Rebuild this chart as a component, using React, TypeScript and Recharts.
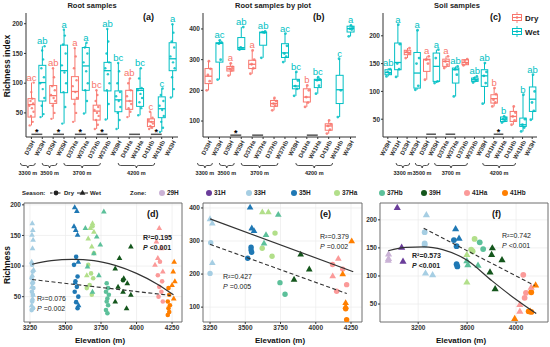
import React from 'react';
import {
  ComposedChart,
  Bar,
  XAxis,
  YAxis,
  ReferenceLine,
  ScatterChart,
  Scatter,
  CartesianGrid,
  ReferenceArea
} from 'recharts';

const FONT = '"Liberation Sans", Arial, Helvetica, sans-serif';
const DRY = '#F8766D';
const WET = '#00BFC4';
const INK = '#333333';

// ---------- (a) root samples ----------
const rootCats = ['D33H', 'W33H', 'D35H', 'W35H', 'D37Ha', 'W37Ha', 'D37Hb', 'W37Hb', 'W39H', 'D41Ha', 'W41Ha', 'D41Hb', 'W41Hb', 'W43H'];
// [min, q1, median, q3, max]
const rootStats = [
  [29, 43, 64, 74, 101],
  [43, 70, 101, 130, 162],
  [40, 66, 79, 96, 125],
  [32, 84, 121, 164, 190],
  [35, 73, 86, 111, 159],
  [49, 88, 129, 160, 168],
  [23, 38, 53, 63, 88],
  [39, 87, 121, 135, 191],
  [23, 52, 72, 87, 134],
  [43, 56, 70, 88, 108],
  [46, 61, 88, 91, 125],
  [23, 27, 35, 40, 52],
  [18, 42, 57, 77, 91],
  [76, 121, 141, 168, 199]
];
const rootPts = [
  [29, 35, 45, 52, 58, 62, 66, 70, 74, 85, 101],
  [43, 48, 62, 75, 90, 100, 110, 125, 140, 155, 162],
  [40, 50, 62, 70, 75, 80, 88, 95, 110, 125],
  [32, 60, 85, 100, 118, 130, 150, 165, 180, 190],
  [35, 50, 65, 75, 85, 95, 105, 125, 145, 159],
  [49, 70, 88, 100, 120, 135, 150, 160, 168],
  [23, 30, 38, 45, 50, 55, 60, 70, 80, 88],
  [39, 65, 88, 100, 115, 125, 135, 150, 170, 191],
  [23, 38, 50, 60, 70, 78, 85, 100, 120, 134],
  [43, 52, 58, 65, 70, 78, 88, 100, 108],
  [46, 58, 68, 75, 82, 88, 92, 108, 125],
  [23, 25, 28, 32, 35, 38, 42, 52],
  [18, 25, 35, 45, 55, 62, 70, 80, 91],
  [76, 90, 110, 125, 135, 145, 160, 170, 185, 199]
];
const rootLetters = ['ac', 'ab', 'ab', 'a', 'a', 'a', 'bc', 'ab', 'bc', 'ab', 'bc', 'c', 'c', 'a'];
const rootSig: [string, string, string][] = [
  ['D33H', 'W33H', '*'], ['D35H', 'W35H', '*'], ['D37Ha', 'W37Ha', '*'],
  ['D37Hb', 'W37Hb', '*'], ['D41Ha', 'W41Ha', ''], ['D41Hb', 'W41Hb', '*']
];

// ---------- (b) root samples by plot ----------
const plotStats = [
  [200, 222, 246, 271, 295],
  [235, 292, 353, 355, 363],
  [248, 263, 270, 278, 288],
  [333, 333, 339, 372, 406],
  [254, 271, 285, 298, 330],
  [306, 347, 388, 390, 392],
  [135, 148, 157, 167, 175],
  [292, 307, 322, 352, 385],
  [182, 205, 214, 236, 260],
  [146, 162, 178, 205, 216],
  [189, 209, 233, 236, 243],
  [59, 70, 84, 91, 102],
  [113, 157, 202, 249, 303],
  [376, 390, 401, 409, 412]
];
const plotPts = [
  [200, 230, 250, 270, 295],
  [235, 300, 352, 356, 363],
  [248, 265, 270, 276, 288],
  [333, 336, 340, 406],
  [254, 272, 285, 300, 330],
  [306, 388, 390, 392],
  [135, 150, 157, 165, 175],
  [292, 310, 320, 345, 385],
  [182, 205, 214, 232, 260],
  [146, 160, 178, 200, 216],
  [189, 215, 233, 236, 243],
  [59, 72, 84, 90, 102],
  [113, 200, 303],
  [376, 398, 401, 405, 412]
];
const plotLetters = ['', 'ac', 'a', 'ab', 'a', 'ab', '', 'ac', 'bc', 'b', 'bc', '', 'c', 'a'];
const plotSig: [string, string, string][] = [
  ['D35H', 'W35H', '*'], ['D37Ha', 'W37Ha', ''], ['D41Ha', 'W41Ha', '']
];

// ---------- (c) soil samples ----------
const soilCats = ['W29H', 'W31H', 'D33H', 'W33H', 'D35H', 'W35H', 'D37Ha', 'W37Ha', 'D37Hb', 'W37Hb', 'W39H', 'D41Ha', 'W41Ha', 'D41Hb', 'W41Hb', 'W43H'];
const soilStats = [
  [127, 130, 134, 139, 142],
  [126, 139, 152, 187, 220],
  [160, 166, 170, 174, 178],
  [103, 106, 133, 170, 210],
  [121, 136, 157, 158, 163],
  [115, 118, 145, 169, 175],
  [142, 145, 154, 158, 163],
  [91, 115, 139, 142, 145],
  [147, 148, 152, 157, 158],
  [116, 118, 121, 124, 127],
  [78, 109, 128, 139, 151],
  [73, 79, 87, 94, 106],
  [44, 46, 50, 54, 55],
  [40, 46, 55, 64, 73],
  [28, 37, 40, 52, 94],
  [49, 64, 86, 108, 130]
];
const soilPts = [
  [127, 132, 135, 140],
  [126, 140, 150, 185, 220],
  [160, 168, 172, 178],
  [103, 110, 150, 160, 210],
  [121, 150, 157, 163],
  [115, 118, 160, 175],
  [142, 148, 154, 163],
  [91, 130, 140, 145],
  [147, 150, 155, 158],
  [116, 120, 124, 127],
  [78, 115, 128, 135, 151],
  [73, 80, 85, 95, 106],
  [44, 47, 50, 52, 55],
  [40, 48, 55, 62, 73],
  [28, 35, 40, 50, 94],
  [49, 65, 80, 100, 130]
];
const soilLetters = ['ab', 'a', '', 'a', 'a', 'a', 'a', 'ab', '', 'ab', 'ab', 'b', 'b', '', 'b', 'ab'];
const soilSig: [string, string, string][] = [
  ['D35H', 'W35H', ''], ['D37Ha', 'W37Ha', ''], ['D41Ha', 'W41Ha', '*']
];

// ---------- (d)-(f) richness vs elevation: [zone, elevation, richness] ----------
const zoneNames = ['29H', '31H', '33H', '35H', '37Ha', '37Hb', '39H', '41Ha', '41Hb'];
const zoneColors = ['#CAB2D6', '#6A3D9A', '#A6CEE3', '#1F78B4', '#B2DF8A', '#5CC09A', '#14561C', '#FB9A99', '#FF7F00'];

const rootWet: [string, number, number][] = [
  ['33H', 3266, 170], ['33H', 3270, 159], ['33H', 3264, 151], ['33H', 3272, 143], ['33H', 3268, 129], ['33H', 3262, 107],
  ['33H', 3275, 94], ['33H', 3266, 85], ['33H', 3270, 75], ['33H', 3264, 66], ['33H', 3272, 53], ['33H', 3268, 47], ['33H', 3262, 36],
  ['35H', 3565, 196], ['35H', 3580, 190], ['35H', 3560, 165], ['35H', 3572, 159], ['35H', 3585, 151], ['35H', 3590, 107],
  ['35H', 3568, 73], ['35H', 3592, 36],
  ['37Ha', 3690, 170], ['37Ha', 3675, 162], ['37Ha', 3700, 156], ['37Ha', 3660, 145], ['37Ha', 3685, 132], ['37Ha', 3650, 85],
  ['37Hb', 3770, 189], ['37Hb', 3640, 162], ['37Hb', 3720, 148], ['37Hb', 3745, 135], ['37Hb', 3700, 121], ['37Hb', 3655, 99],
  ['37Hb', 3735, 85], ['37Hb', 3690, 58],
  ['39H', 3960, 132], ['39H', 3880, 113], ['39H', 3850, 96], ['39H', 3910, 80], ['39H', 3935, 72], ['39H', 3870, 66],
  ['39H', 3905, 58], ['39H', 3960, 53], ['39H', 3850, 42], ['39H', 3930, 31],
  ['41Ha', 4160, 162], ['41Ha', 4140, 140], ['41Ha', 4175, 129], ['41Ha', 4150, 113], ['41Ha', 4130, 102], ['41Ha', 4185, 91],
  ['41Hb', 4265, 107], ['41Hb', 4258, 91], ['41Hb', 4270, 75], ['41Hb', 4250, 69], ['41Hb', 4262, 47]
];
const rootDry: [string, number, number][] = [
  ['33H', 3265, 102], ['33H', 3270, 91], ['33H', 3262, 80], ['33H', 3268, 72], ['33H', 3274, 64], ['33H', 3264, 58],
  ['33H', 3270, 53], ['33H', 3266, 42], ['33H', 3272, 31], ['33H', 3262, 28],
  ['35H', 3575, 115], ['35H', 3560, 102], ['35H', 3585, 83], ['35H', 3570, 75], ['35H', 3580, 66], ['35H', 3565, 58],
  ['35H', 3590, 50], ['35H', 3575, 41], ['35H', 3585, 31],
  ['37Ha', 3690, 165], ['37Ha', 3700, 121], ['37Ha', 3660, 102], ['37Ha', 3680, 88], ['37Ha', 3695, 80], ['37Ha', 3670, 69],
  ['37Ha', 3650, 64], ['37Ha', 3685, 53],
  ['37Hb', 3790, 72], ['37Hb', 3800, 64], ['37Hb', 3785, 58], ['37Hb', 3805, 53], ['37Hb', 3795, 47], ['37Hb', 3790, 42],
  ['37Hb', 3800, 36], ['37Hb', 3785, 28], ['37Hb', 3795, 23],
  ['39H', 3905, 77],
  ['41Ha', 4165, 107], ['41Ha', 4150, 85], ['41Ha', 4180, 75], ['41Ha', 4160, 66], ['41Ha', 4175, 58], ['41Ha', 4155, 50], ['41Ha', 4185, 42],
  ['41Hb', 4225, 64], ['41Hb', 4230, 53], ['41Hb', 4220, 42], ['41Hb', 4235, 36], ['41Hb', 4225, 31], ['41Hb', 4230, 25], ['41Hb', 4220, 20]
];
const rootWetFit: [number, number][] = [[3265, 103], [3400, 109], [3550, 111], [3700, 109], [3850, 101], [4000, 88], [4150, 70], [4260, 53]];
const rootDryFit: [number, number][] = [[3265, 78], [4240, 52]];

const plotWet: [string, number, number][] = [
  ['33H', 3250, 367], ['33H', 3266, 354], ['33H', 3266, 234],
  ['35H', 3534, 402], ['35H', 3546, 339], ['35H', 3562, 331],
  ['37Ha', 3621, 388], ['37Ha', 3664, 388],
  ['37Hb', 3734, 380], ['37Hb', 3647, 319], ['37Hb', 3633, 293],
  ['39H', 3893, 260], ['39H', 3954, 215], ['39H', 3846, 184],
  ['41Ha', 4160, 247], ['41Ha', 4120, 194],
  ['41Hb', 4255, 300], ['41Hb', 4191, 200], ['41Hb', 4212, 113], ['41Hb', 4212, 102]
];
const plotDry: [string, number, number][] = [
  ['33H', 3255, 295], ['33H', 3250, 202],
  ['35H', 3541, 281], ['35H', 3541, 273], ['35H', 3545, 266], ['35H', 3517, 248],
  ['37Ha', 3711, 324], ['37Ha', 3620, 278], ['37Ha', 3690, 254],
  ['37Hb', 3746, 174], ['37Hb', 3782, 139],
  ['41Ha', 4119, 229], ['41Ha', 4191, 215], ['41Ha', 4219, 168], ['41Ha', 4148, 148],
  ['41Hb', 4212, 95], ['41Hb', 4219, 62]
];
const plotWetFit: [number, number][] = [[3250, 367], [4266, 207]];
const plotDryFit: [number, number][] = [[3250, 290], [4220, 141]];

const soilWet: [string, number, number][] = [
  ['29H', 2958, 139], ['29H', 2958, 131], ['29H', 2955, 128],
  ['31H', 3029, 222], ['31H', 3065, 151], ['31H', 3076, 126],
  ['33H', 3267, 209], ['33H', 3260, 105], ['33H', 3318, 102],
  ['35H', 3506, 184], ['35H', 3534, 167],
  ['37Ha', 3598, 138], ['37Ha', 3598, 89],
  ['37Hb', 3598, 127], ['37Hb', 3606, 120], ['37Hb', 3689, 119],
  ['39H', 3806, 150], ['39H', 3800, 138], ['39H', 3885, 129], ['39H', 3787, 107], ['39H', 3829, 77],
  ['41Ha', 4031, 49], ['41Ha', 4031, 37], ['41Ha', 4124, 80],
  ['41Hb', 4160, 84], ['41Hb', 3989, 24], ['41Hb', 4116, 37]
];
const soilDry: [string, number, number][] = [
  ['33H', 3253, 178], ['33H', 3253, 158], ['33H', 3253, 155],
  ['35H', 3492, 164], ['35H', 3514, 153], ['35H', 3514, 121], ['35H', 3520, 117],
  ['37Ha', 3661, 166], ['37Ha', 3633, 147], ['37Ha', 3645, 144],
  ['37Hb', 3703, 160], ['37Hb', 3731, 148],
  ['41Ha', 4059, 102], ['41Ha', 4081, 70], ['41Ha', 4070, 61],
  ['41Hb', 4124, 71], ['41Hb', 4103, 37], ['41Hb', 4124, 36]
];
const soilWetFit: [number, number][] = [[2955, 145], [3100, 151], [3250, 152], [3400, 147], [3600, 128], [3800, 92], [4000, 58], [4165, 33]];
const soilDryFit: [number, number][] = [[3245, 185], [4152, 83]];

const boxTable = (cats: string[], stats: number[][], pts: number[][], letters: string[]) =>
  cats.map((name, i) => ({
    name,
    range: [stats[i][0], stats[i][4]],
    stats: stats[i],
    pts: pts[i],
    letter: letters[i]
  }));

const byZone = (rows: [string, number, number][]) =>
  zoneNames.map((z) => rows.filter((r) => r[0] === z).map((r) => ({ elev: r[1], rich: r[2] })));

const fitRows = (rows: [number, number][]) => rows.map(([elev, rich]) => ({ elev, rich }));

const JIT = [-1.8, 1.2, -0.6, 2.0, 0.4, -2.2, 1.6, -1.0, 0.8, -0.2, 2.2];

const BoxShape = (props: any) => {
  const { x, y, width, height, payload, r } = props;
  const [lo, q1, med, q3, hi] = payload.stats;
  const top = Math.min(y, y + height);
  const h = Math.abs(height);
  const py = (v: number) => top + (h * (hi - v)) / (hi - lo);
  const c = payload.name.startsWith('D') ? DRY : WET;
  const cx = x + width / 2;
  return (
    <g>
      <line x1={cx} x2={cx} y1={py(hi)} y2={py(q3)} stroke={c} strokeWidth={1} />
      <line x1={cx} x2={cx} y1={py(q1)} y2={py(lo)} stroke={c} strokeWidth={1} />
      <rect x={x} y={py(q3)} width={width} height={Math.max(py(q1) - py(q3), 1)} fill="#fff" stroke={c} strokeWidth={1} />
      <line x1={x} x2={x + width} y1={py(med)} y2={py(med)} stroke={c} strokeWidth={1.3} />
      {payload.pts.map((v: number, i: number) => (
        <circle key={i} cx={cx + JIT[i % JIT.length]} cy={py(v)} r={r} fill={c} fillOpacity={0.85} />
      ))}
      {payload.letter ? (
        <text x={cx} y={py(hi) - 2} textAnchor="middle" fontSize={9.5} fill={c} fontFamily={FONT}>
          {payload.letter}
        </text>
      ) : null}
    </g>
  );
};

const RotTick = (props: any) => {
  const { x, y, payload } = props;
  const tx = x + 2;
  const ty = y + 1;
  return (
    <text x={tx} y={ty} transform={`rotate(-62 ${tx} ${ty})`} textAnchor="end" dy="0.3em"
      fontSize={6} fontWeight={700} fill={INK} fontFamily={FONT}>
      {payload.value}
    </text>
  );
};

// numeric tick; values listed in `skip` are labelled by a reference line instead
const NumTick = (props: any) => {
  const { x, y, payload, skip } = props;
  if (skip && skip.includes(payload.value)) return <g />;
  return (
    <text x={x} y={y} dy="0.71em" textAnchor="middle" fontSize={6.5} fontWeight={700} fill={INK} fontFamily={FONT}>
      {payload.value}
    </text>
  );
};

function BoxPanel({ data, left, yW, right, domain, ticks, sig, sigY, barSize, r }: any) {
  return (
    <div style={{ position: 'absolute', left, top: 0 }}>
      <ComposedChart width={185} height={175} data={data} margin={{ top: 13, right, left: 0, bottom: 0 }}>
        <XAxis dataKey="name" interval={0} height={38} tick={<RotTick />} tickSize={2} tickMargin={1} stroke={INK} />
        <YAxis width={yW} type="number" domain={domain} ticks={ticks} allowDataOverflow tickSize={2} tickMargin={1}
          stroke={INK} tick={{ fontSize: 6.5, fill: INK, fontWeight: 700, fontFamily: FONT }} />
        {sig.map(([a, b, star]: [string, string, string]) => (
          <ReferenceLine key={a} segment={[{ x: a, y: sigY }, { x: b, y: sigY }]} stroke="#555" strokeWidth={1.5}
            label={star ? { value: star, position: 'top', offset: -1, fontSize: 9, fontWeight: 700, fill: '#000' } : undefined} />
        ))}
        <Bar dataKey="range" barSize={barSize} isAnimationActive={false}
          shape={(p: any) => <BoxShape {...p} r={r} />} />
      </ComposedChart>
    </div>
  );
}

const dotShape = (color: string, r: number) => (p: any) => <circle cx={p.cx} cy={p.cy} r={r} fill={color} />;
const triShape = (color: string, r: number) => (p: any) => {
  const s = r * 1.3;
  return (
    <path d={`M${p.cx},${p.cy - s} L${p.cx + s * 0.95},${p.cy + s * 0.65} L${p.cx - s * 0.95},${p.cy + s * 0.65} Z`} fill={color} />
  );
};
const noShape = () => <g />;

function ScatterPanel({ left, width, yW, right, xDomain, xTicks, yDomain, yTicks, dry, wet, dryFit, wetFit, r, extraXLabels }: any) {
  const dz = byZone(dry);
  const wz = byZone(wet);
  const extra = extraXLabels || [];
  return (
    <div style={{ position: 'absolute', left, top: 196 }}>
      <ScatterChart width={width} height={151} margin={{ top: 7, right, left: 0, bottom: 0 }}>
        <CartesianGrid stroke="#EBEBEB" strokeWidth={0.7} />
        <XAxis type="number" dataKey="elev" domain={xDomain} ticks={xTicks} interval={0} minTickGap={0} allowDataOverflow height={25}
          tickSize={2} tickMargin={1} axisLine={false} stroke={INK} tick={<NumTick skip={extra} />} />
        <YAxis type="number" dataKey="rich" domain={yDomain} ticks={yTicks} interval={0} allowDataOverflow width={yW}
          tickSize={2} tickMargin={1} axisLine={false} stroke={INK}
          tick={{ fontSize: 6.5, fill: INK, fontWeight: 700, fontFamily: FONT }} />
        {dz.map((pts, i) =>
          pts.length ? <Scatter key={'d' + i} data={pts} shape={dotShape(zoneColors[i], r)} isAnimationActive={false} /> : null
        )}
        {wz.map((pts, i) =>
          pts.length ? <Scatter key={'w' + i} data={pts} shape={triShape(zoneColors[i], r)} isAnimationActive={false} /> : null
        )}
        <Scatter data={fitRows(dryFit)} line={{ stroke: '#333', strokeWidth: 1.1, strokeDasharray: '4 2.5' }}
          lineJointType="monotoneX" shape={noShape} isAnimationActive={false} />
        <Scatter data={fitRows(wetFit)} line={{ stroke: '#333', strokeWidth: 1.2 }}
          lineJointType="monotoneX" shape={noShape} isAnimationActive={false} />
        <ReferenceArea x1={xDomain[0]} x2={xDomain[1]} y1={yDomain[0]} y2={yDomain[1]} fill="none"
          fillOpacity={0} stroke="#666" strokeWidth={0.9} ifOverflow="visible" />
        {extra.map((v: number) => (
          <ReferenceLine key={'xl' + v} x={v} stroke="none"
            label={{ value: String(v), position: 'bottom', offset: 3, fontSize: 6.5, fontWeight: 700, fill: INK, fontFamily: FONT }} />
        ))}
      </ScatterChart>
    </div>
  );
}

const topGroups: [number, number, string][] = [[0, 1, '3300 m'], [2, 3, '3500 m'], [4, 7, '3700 m'], [9, 12, '4200 m']];
const soilGroups: [number, number, string][] = [[2, 3, '3300 m'], [4, 5, '3500 m'], [6, 9, '3700 m'], [11, 14, '4200 m']];

function Braces({ left, band, groups }: { left: number; band: number; groups: [number, number, string][] }) {
  return (
    <g>
      {groups.map(([i, j, label]) => {
        const x1 = left + (i + 0.5) * band - 11;
        const x2 = left + (j + 0.5) * band - 7;
        const m = (x1 + x2) / 2;
        const d = `M${x1},163 Q${x1},165.5 ${x1 + 2.5},165.5 L${m - 2},165.5 Q${m},165.5 ${m},168 Q${m},165.5 ${m + 2},165.5 L${x2 - 2.5},165.5 Q${x2},165.5 ${x2},163`;
        return (
          <g key={label}>
            <path d={d} fill="none" stroke="#222" strokeWidth={0.8} />
            <text x={m} y={174.5} fontSize={5.5} fontWeight={700} textAnchor="middle" fill="#222">{label}</text>
          </g>
        );
      })}
    </g>
  );
}

function Stat({ x, y, r2, p, bold }: { x: number; y: number; r2: string; p: string; bold?: boolean }) {
  const fw = bold ? 700 : 400;
  return (
    <g fontSize={7} fontWeight={fw} fill="#222">
      <text x={x} y={y}>R²={r2}</text>
      <text x={x} y={y + 10}><tspan fontStyle="italic">P</tspan> {p}</text>
    </g>
  );
}

const legendZoneX = [162, 209, 249, 294, 337, 382, 424, 467, 505];

export default function App() {
  return (
    <div style={{ position: 'absolute', left: 0, top: 0, width: 550, height: 347, background: '#fff', overflow: 'hidden', fontFamily: FONT }}>
      <BoxPanel data={boxTable(rootCats, rootStats, rootPts, rootLetters)} left={0} yW={26} right={7}
        domain={[9.5, 218]} ticks={[50, 100, 150, 200]} sig={rootSig} sigY={14} barSize={7} r={1.2} />
      <BoxPanel data={boxTable(rootCats, plotStats, plotPts, plotLetters)} left={180} yW={23} right={9}
        domain={[48, 452]} ticks={[100, 200, 300, 400]} sig={plotSig} sigY={54} barSize={7} r={1.4} />
      <BoxPanel data={boxTable(soilCats, soilStats, soilPts, soilLetters)} left={365} yW={18} right={13}
        domain={[18, 241]} ticks={[50, 100, 150, 200]} sig={soilSig} sigY={23} barSize={6.5} r={1.4} />

      <ScatterPanel left={0} width={185} yW={24} right={3} xDomain={[3208, 4320]} xTicks={[3250, 3500, 3750, 4000, 4250]}
        yDomain={[8.6, 203]} yTicks={[50, 100, 150, 200]} dry={rootDry} wet={rootWet} dryFit={rootDryFit} wetFit={rootWetFit} r={2.3} />
      <ScatterPanel left={185} width={180} yW={18} right={3} xDomain={[3200, 4328]} xTicks={[3250, 3500, 3750, 4000, 4250]}
        yDomain={[55, 415]} yTicks={[100, 200, 300, 400]} dry={plotDry} wet={plotWet} dryFit={plotDryFit} wetFit={plotWetFit} r={2.7} />
      <ScatterPanel left={365} width={185} yW={15} right={2} xDomain={[2888, 4261]} xTicks={[3200, 3600, 4000]}
        yDomain={[18, 230]} yTicks={[50, 100, 150, 200]} dry={soilDry} wet={soilWet} dryFit={soilDryFit} wetFit={soilWetFit} r={2.9}
        extraXLabels={[3200]} />

      <svg width={550} height={347} style={{ position: 'absolute', left: 0, top: 0, pointerEvents: 'none' }} fontFamily={FONT}>
        {/* titles */}
        <g fontSize={7.5} fontWeight={700} fill="#222" textAnchor="middle">
          <text x={92} y={8}>Root samples</text>
          <text x={273} y={8}>Root samples by plot</text>
          <text x={457} y={8}>Soil samples</text>
        </g>
        <g fontSize={9} fontWeight={700} fill="#111">
          <text x={143} y={20}>(a)</text>
          <text x={313} y={20}>(b)</text>
          <text x={490} y={20}>(c)</text>
          <text x={147} y={217}>(d)</text>
          <text x={320} y={217}>(e)</text>
          <text x={492} y={217}>(f)</text>
        </g>
        <text transform="translate(10,66) rotate(-90)" fontSize={8.5} fontWeight={700} textAnchor="middle" fill="#111">Richness index</text>
        <text transform="translate(10,265) rotate(-90)" fontSize={8.5} fontWeight={700} textAnchor="middle" fill="#111">Richness</text>
        <g fontSize={8} fontWeight={700} fill="#111" textAnchor="middle">
          <text x={100} y={343}>Elevation (m)</text>
          <text x={280} y={343}>Elevation (m)</text>
          <text x={461} y={343}>Elevation (m)</text>
        </g>

        {/* braces under category labels */}
        <Braces left={26} band={152 / 14} groups={topGroups} />
        <Braces left={203} band={153 / 14} groups={topGroups} />
        <Braces left={383} band={154 / 16} groups={soilGroups} />

        {/* season legend in (c) */}
        <g>
          <line x1={517} x2={517} y1={12} y2={23} stroke={DRY} strokeWidth={0.9} />
          <rect x={512.5} y={14.5} width={9} height={6} fill="#fff" stroke={DRY} strokeWidth={1} />
          <line x1={512.5} x2={521.5} y1={17.5} y2={17.5} stroke={DRY} strokeWidth={1} />
          <circle cx={517} cy={17.5} r={1.2} fill={DRY} />
          <text x={525} y={20.5} fontSize={8} fontWeight={700} fill="#222">Dry</text>
          <line x1={517} x2={517} y1={26} y2={37} stroke={WET} strokeWidth={0.9} />
          <rect x={512.5} y={28.5} width={9} height={6} fill="#fff" stroke={WET} strokeWidth={1} />
          <line x1={512.5} x2={521.5} y1={31.5} y2={31.5} stroke={WET} strokeWidth={1} />
          <circle cx={517} cy={31.5} r={1.2} fill={WET} />
          <text x={525} y={34.5} fontSize={8} fontWeight={700} fill="#222">Wet</text>
        </g>

        {/* bottom legend */}
        <g fontSize={6} fontWeight={700} fill="#222">
          <text x={22} y={195.3}>Season:</text>
          <line x1={50} x2={62} y1={193} y2={193} stroke="#222" strokeWidth={1} strokeDasharray="2.5 1.5" />
          <circle cx={56} cy={193} r={2.4} fill="#222" />
          <text x={64} y={195.3}>Dry</text>
          <line x1={77} x2={88} y1={193} y2={193} stroke="#222" strokeWidth={1} />
          <path d="M82.5,189.8 L85.4,194.8 L79.6,194.8 Z" fill="#222" />
          <text x={90} y={195.3}>Wet</text>
          <text x={130} y={195.3}>Zone:</text>
          {zoneNames.map((z, i) => (
            <g key={z}>
              <circle cx={legendZoneX[i]} cy={193} r={3} fill={zoneColors[i]} />
              <text x={legendZoneX[i] + 5} y={195.3} fontSize={6.4}>{z}</text>
            </g>
          ))}
        </g>

        {/* fit statistics */}
        <Stat x={143} y={240} r2="0.195" p="<0.001" bold />
        <Stat x={37} y={301} r2="0.076" p="=0.002" />
        <Stat x={320} y={239} r2="0.379" p="=0.002" />
        <Stat x={223} y={279} r2="0.427" p="=0.005" />
        <Stat x={502} y={238} r2="0.742" p="<0.001" />
        <Stat x={412} y={258} r2="0.573" p="<0.001" bold />
      </svg>
    </div>
  );
}
